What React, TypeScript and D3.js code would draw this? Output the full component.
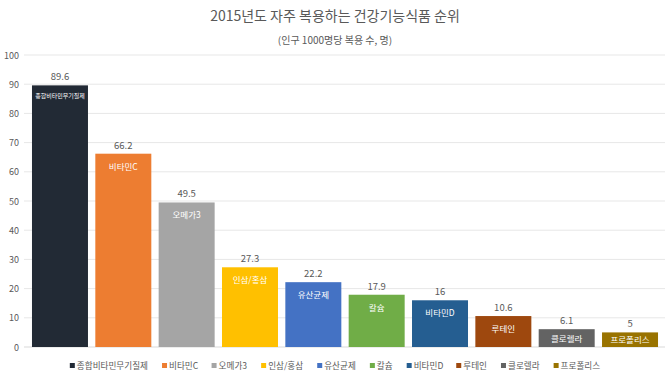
import React from "react";
import * as d3 from "d3";

const categories = ["종합비타민무기질제", "비타민C", "오메가3", "인삼/홍삼", "유산균제", "칼슘", "비타민D", "루테인", "클로렐라", "프로폴리스"];
const values = [89.6, 66.2, 49.5, 27.3, 22.2, 17.9, 16, 10.6, 6.1, 5];
const valueLabels = ["89.6", "66.2", "49.5", "27.3", "22.2", "17.9", "16", "10.6", "6.1", "5"];
const colors = ["#222A35", "#ED7D31", "#A5A5A5", "#FFC000", "#4472C4", "#70AD47", "#255E91", "#9E480E", "#636363", "#997300"];
const yTicks = [0, 10, 20, 30, 40, 50, 60, 70, 80, 90, 100];

const W = 670, H = 376;
const FONT = "'Noto Sans CJK KR', 'Noto Sans', sans-serif";
const TXT = "#595959";

function estWidth(s: string, fs: number) {
  let w = 0;
  for (const ch of s) {
    if (/[\uAC00-\uD7AF]/.test(ch)) w += fs * 0.92;
    else if (ch === "/") w += fs * 0.4;
    else w += fs * 0.56;
  }
  return w;
}

export default function App() {
  const x = d3.scaleBand<string>().domain(categories).range([24, 666]).paddingInner(0.116).paddingOuter(0.126);
  const y = d3.scaleLinear().domain([0, 100]).range([347, 55]);

  const legendFont = 8.6;
  const gap = 14;
  const itemWidths = categories.map((c) => 7 + estWidth(c, legendFont) + gap);
  const totalW = d3.sum(itemWidths) - gap;
  let lx = (W - totalW) / 2;
  const legendItems = categories.map((c, i) => {
    const item = { c, i, x: lx };
    lx += itemWidths[i];
    return item;
  });

  return (
    <svg width={W} height={H} style={{ position: "absolute", left: 0, top: 0, background: "#fff" }} fontFamily={FONT}>
      <rect width={W} height={H} fill="#fff" />
      <text x={335} y={21} textAnchor="middle" fontSize={14} fill={TXT}>2015년도 자주 복용하는 건강기능식품 순위</text>
      <text x={335} y={44} textAnchor="middle" fontSize={10} fill={TXT}>(인구 1000명당 복용 수, 명)</text>
      {yTicks.map((t) => (
        <g key={t}>
          <line x1={24} x2={665} y1={y(t)} y2={y(t)} stroke={t === 0 ? "#D9D9D9" : "#E7E7E7"} strokeWidth={1} />
          <text x={19} y={y(t) + 3.5} textAnchor="end" fontSize={9} fill={TXT}>{t}</text>
        </g>
      ))}
      {categories.map((c, i) => {
        const bx = x(c)!;
        const bw = x.bandwidth();
        const top = y(values[i]);
        const small = c.length > 6;
        const ly = Math.min(top + (small ? 13 : 16), (top + y(0)) / 2 + 3.5);
        return (
          <g key={c}>
            <rect x={bx} y={top} width={bw} height={y(0) - top} fill={colors[i]} />
            <text x={bx + bw / 2} y={top - 5} textAnchor="middle" fontSize={9.5} fill={TXT}>{valueLabels[i]}</text>
            <text x={bx + bw / 2} y={ly} textAnchor="middle" fontSize={small ? 6 : 8.5} fill="#fff">{c}</text>
          </g>
        );
      })}
      {legendItems.map(({ c, i, x: ix }) => (
        <g key={c}>
          <rect x={ix} y={363} width={5} height={5} fill={colors[i]} />
          <text x={ix + 7} y={369} fontSize={legendFont} fill={TXT}>{c}</text>
        </g>
      ))}
    </svg>
  );
}
